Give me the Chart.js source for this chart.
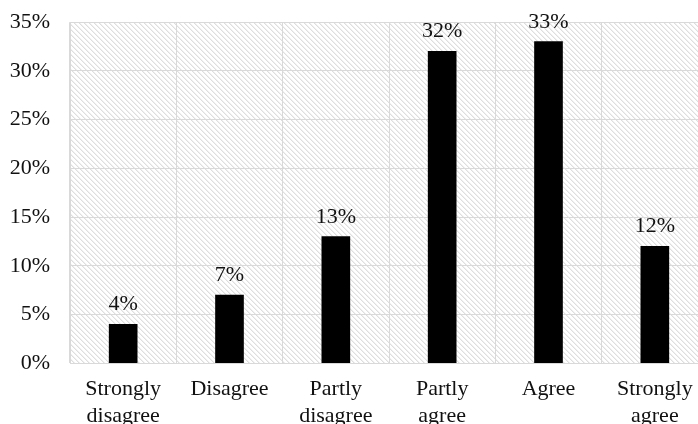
<!DOCTYPE html>
<html>
<head>
<meta charset="utf-8">
<script src="https://cdn.jsdelivr.net/npm/chart.js@4/dist/chart.umd.min.js"></script>
<style>
  html, body { margin: 0; padding: 0; background: #fff; overflow: hidden; }
  #wrap { width: 712px; height: 453px; position: relative; margin-top: -11px; }
</style>
</head>
<body>
<div id="wrap"><canvas id="c"></canvas></div>
<script>
// Survey responses by agreement level
const categories = [
  ['Strongly', 'disagree'],
  'Disagree',
  ['Partly', 'disagree'],
  ['Partly', 'agree'],
  'Agree',
  ['Strongly', 'agree']
];
const shares = [4, 7, 13, 32, 33, 12];
const yTicks = [0, 5, 10, 15, 20, 25, 30, 35];

const FONT = "'Liberation Serif', 'Times New Roman', serif";

// fine diagonal hatch fill behind the plot area
function hatchPattern(ctx) {
  const n = 5;
  const p = document.createElement('canvas');
  p.width = n; p.height = n;
  const g = p.getContext('2d');
  g.fillStyle = '#ffffff';
  g.fillRect(0, 0, n, n);
  for (let i = 0; i < n; i++) {
    g.fillStyle = '#dedede';
    g.fillRect(i, i, 1, 1);
    g.fillStyle = '#f0f0f0';
    g.fillRect((i + 1) % n, i, 1, 1);
  }
  return ctx.createPattern(p, 'repeat');
}

const hatchBg = {
  id: 'hatchBg',
  beforeDraw(chart) {
    const { ctx, chartArea: a } = chart;
    ctx.save();
    ctx.fillStyle = hatchPattern(ctx);
    ctx.fillRect(a.left, a.top, a.right - a.left, a.bottom - a.top);
    ctx.restore();
  }
};

const valueLabels = {
  id: 'valueLabels',
  afterDatasetsDraw(chart) {
    const { ctx } = chart;
    const meta = chart.getDatasetMeta(0);
    ctx.save();
    ctx.font = '22px ' + FONT;
    ctx.fillStyle = '#111111';
    ctx.textAlign = 'center';
    ctx.textBaseline = 'alphabetic';
    meta.data.forEach((bar, i) => {
      ctx.fillText(shares[i] + '%', bar.x, bar.y - 14);
    });
    ctx.restore();
  }
};

new Chart(document.getElementById('c'), {
  type: 'bar',
  data: {
    labels: categories,
    datasets: [{
      data: shares,
      backgroundColor: '#000000',
      borderWidth: 0,
      barThickness: 28
    }]
  },
  options: {
    responsive: true,
    maintainAspectRatio: false,
    animation: false,
    layout: { padding: { top: 0, right: 4, left: 0, bottom: 0 } },
    plugins: {
      legend: { display: false },
      tooltip: { enabled: false }
    },
    scales: {
      x: {
        grid: { color: '#d9d9d9', lineWidth: 1, drawTicks: false, offset: true },
        border: { color: '#d9d9d9' },
        ticks: {
          color: '#111111',
          font: { family: FONT, size: 22, lineHeight: 1.2 },
          padding: 13,
          maxRotation: 0,
          autoSkip: false
        }
      },
      y: {
        min: 0,
        max: 35,
        afterBuildTicks(axis) { axis.ticks = yTicks.map(v => ({ value: v })); },
        afterFit(axis) { axis.width = 70; },
        grid: { color: '#d9d9d9', lineWidth: 1, drawTicks: false },
        border: { color: '#d9d9d9' },
        ticks: {
          color: '#111111',
          font: { family: FONT, size: 22 },
          padding: 20,
          callback: v => v + '%'
        }
      }
    }
  },
  plugins: [hatchBg, valueLabels]
});
</script>
</body>
</html>
